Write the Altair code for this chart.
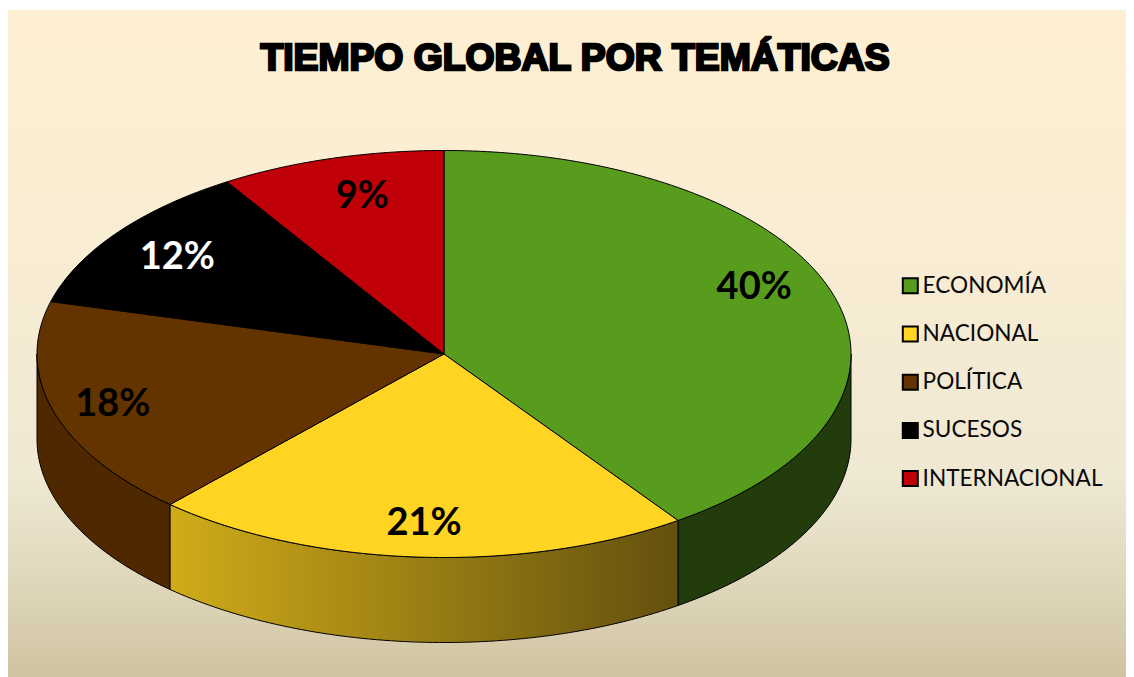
import math
import altair as alt

TITLE = "TIEMPO GLOBAL POR TEMÁTICAS"
CATEGORIES = ["ECONOMÍA", "NACIONAL", "POLÍTICA", "SUCESOS", "INTERNACIONAL"]
SHARES = [40.25, 21.5, 17.4, 11.9, 8.95]          # slice sizes
LABELS = ["40%", "21%", "18%", "12%", "9%"]       # printed labels
TOP_COLORS = ["#589C1D", "#FFD422", "#633300", "#000000", "#C00008"]
SIDE_GREEN = "#223D0B"
SIDE_BROWN = "#4F2800"

# layout of the tilted disc, in chart pixels
CX, CY, RX, RY, DEPTH = 436.0, 346.0, 407.0, 203.5, 85.0
W, H = 1118, 669
LABEL_RADIUS = 0.82
LABEL_NUDGE = [(-8, -16), (1, 3), (-11, 4), (2, 3), (11, 3)]


def pt(deg, dy=0.0, f=1.0):
    a = math.radians(deg)
    return [CX + f * RX * math.sin(a), CY - f * RY * math.cos(a) + dy]


def arc(a0, a1, dy=0.0):
    n = max(2, int(abs(a1 - a0)) + 1)
    return [pt(a0 + (a1 - a0) * i / n, dy) for i in range(n + 1)]


def feature(ring, name):
    ring = ring + [ring[0]]
    return {"type": "Feature", "properties": {"name": name},
            "geometry": {"type": "Polygon", "coordinates": [ring]}}


edges = [0.0]
for s in SHARES:
    edges.append(edges[-1] + s * 3.6)

tops = [feature([[CX, CY]] + arc(edges[i], edges[i + 1]), CATEGORIES[i])
        for i in range(len(CATEGORIES))]


def side(a0, a1, name):
    a0, a1 = max(a0, 90.0), min(a1, 270.0)
    return feature(arc(a0, a1) + arc(a1, a0, DEPTH), name)


PROJ = dict(type="identity", scale=1, translate=[0, 0])

background = alt.Chart(alt.Data(values=[{"k": 1}])).mark_rect(
    fill=alt.LinearGradient(
        gradient="linear", x1=0, y1=0, x2=0, y2=1,
        stops=[
            alt.GradientStop(offset=0.0, color="#FEEFD2"),
            alt.GradientStop(offset=0.35, color="#F9EDD3"),
            alt.GradientStop(offset=0.7, color="#EFE8D3"),
            alt.GradientStop(offset=0.85, color="#E0D8BD"),
            alt.GradientStop(offset=1.0, color="#D0C3A1"),
        ],
    )
).encode(x=alt.value(0), x2=alt.value(W), y=alt.value(2), y2=alt.value(H))


def side_layer(feat, fill):
    return alt.Chart(alt.Data(values=[feat])).mark_geoshape(
        fill=fill, stroke="#000000", strokeWidth=1
    ).project(**PROJ)


side_green = side_layer(side(edges[0], edges[1], CATEGORIES[0]), SIDE_GREEN)
side_brown = side_layer(side(edges[2], edges[3], CATEGORIES[2]), SIDE_BROWN)
side_yellow = side_layer(
    side(edges[1], edges[2], CATEGORIES[1]),
    alt.LinearGradient(
        gradient="linear", x1=1, y1=0, x2=0, y2=0,
        stops=[
            alt.GradientStop(offset=0.0, color="#63500E"),
            alt.GradientStop(offset=1.0, color="#D0AC19"),
        ],
    ),
)

top = alt.Chart(alt.Data(values=tops)).mark_geoshape(
    stroke="#000000", strokeWidth=1
).encode(
    color=alt.Color(
        "properties.name:N",
        scale=alt.Scale(domain=CATEGORIES, range=TOP_COLORS),
        legend=alt.Legend(
            title=None, orient="none", legendX=891, legendY=266.5,
            symbolType="square", symbolSize=225,
            symbolStrokeColor="#000000", symbolStrokeWidth=2,
            labelFont="Lato", labelFontSize=22.6, labelColor="#0A0A0A",
            labelLimit=260, labelOffset=1, rowPadding=24.2,
        ),
    )
).project(**PROJ)

label_rows = []
for i, name in enumerate(CATEGORIES):
    mid = (edges[i] + edges[i + 1]) / 2
    x, y = pt(mid, f=LABEL_RADIUS)
    label_rows.append({"name": name, "label": LABELS[i],
                       "lon": x + LABEL_NUDGE[i][0], "lat": y + LABEL_NUDGE[i][1]})

labels = alt.Chart(alt.Data(values=label_rows)).mark_text(
    font="Lato", fontSize=38, fontWeight="bold", align="center", baseline="middle"
).encode(
    longitude="lon:Q",
    latitude="lat:Q",
    text="label:N",
    color=alt.when(alt.datum.name == "SUCESOS").then(alt.value("#FFFFFF")).otherwise(alt.value("#000000")),
).project(**PROJ)

title = alt.Chart(alt.Data(values=[{"t": TITLE}])).mark_text(
    font="Liberation Sans", fontSize=37.3, fontWeight="bold", align="center",
    baseline="middle", fill="#000000", stroke="#000000", strokeWidth=2.5,
).encode(x=alt.value(567), y=alt.value(51), text="t:N")

chart = alt.layer(
    background, side_green, side_brown, side_yellow, top, labels, title
).properties(
    width=W, height=H, padding=0, autosize=alt.AutoSizeParams(type="none")
).configure_view(stroke=None)

chart.save("out.html", embed_options={"renderer": "svg", "actions": False})
